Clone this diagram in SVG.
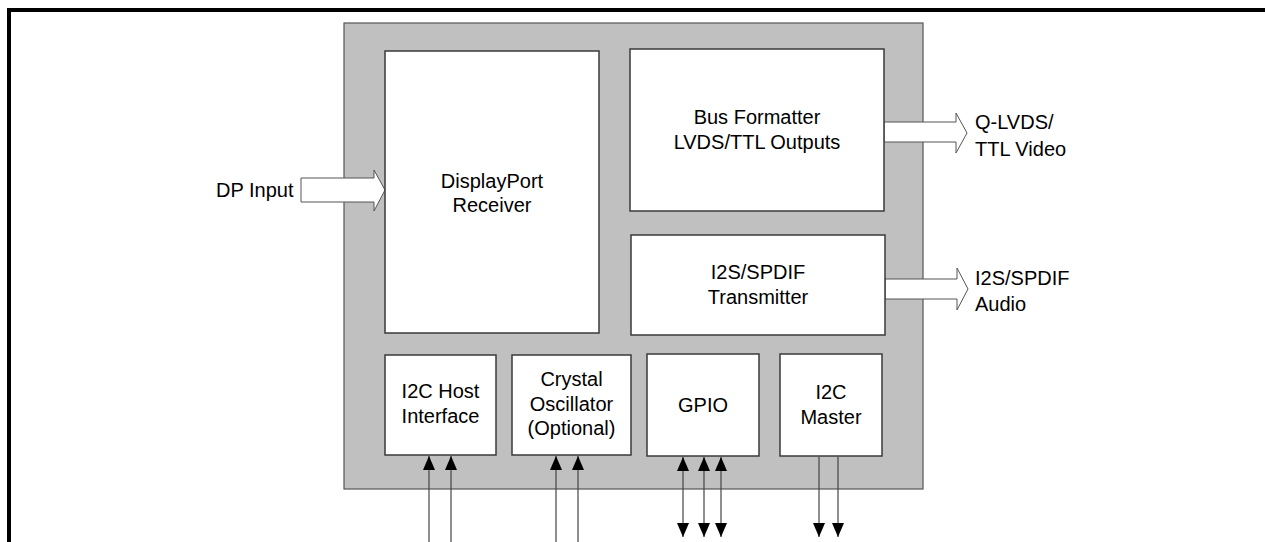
<svg xmlns="http://www.w3.org/2000/svg" width="1265" height="542" viewBox="0 0 1265 542">
<defs>
<style>
.t{font-family:"Liberation Sans",Arial,sans-serif;font-size:20px;fill:#000;}
.c{text-anchor:middle;}
.box{fill:#fff;stroke:#3a3a3a;stroke-width:1.5;}
.ln{stroke:#444;stroke-width:1.2;fill:none;}
.blk{fill:#fff;stroke:#555;stroke-width:1;}
</style>
<marker id="ah" viewBox="0 0 14 12" refX="14" refY="6" markerWidth="14" markerHeight="12" markerUnits="userSpaceOnUse" orient="auto-start-reverse">
<path d="M0,0 L14,6 L0,12 z" fill="#000"/>
</marker>
</defs>
<rect width="1265" height="542" fill="#fff"/>
<path d="M9,545 V10 H1270" fill="none" stroke="#000" stroke-width="4"/>
<rect id="chip" x="344" y="23" width="579" height="466" fill="#c0c0c0" stroke="#555" stroke-width="1.2"/>
<g id="connectors">
<polygon class="blk" points="301,178 374,178 374,170 385,190 374,211 374,202 301,202"/>
<polygon class="blk" points="884,122 956,122 956,113 967,133 956,153 956,142 884,142"/>
<polygon class="blk" points="885,279 957,279 957,268 968,289 957,310 957,299 885,299"/>
<line class="ln" x1="429" y1="545" x2="429" y2="456" marker-end="url(#ah)"/>
<line class="ln" x1="451" y1="545" x2="451" y2="456" marker-end="url(#ah)"/>
<line class="ln" x1="556" y1="545" x2="556" y2="456" marker-end="url(#ah)"/>
<line class="ln" x1="578" y1="545" x2="578" y2="456" marker-end="url(#ah)"/>
<line class="ln" x1="683" y1="537" x2="683" y2="457" marker-start="url(#ah)" marker-end="url(#ah)"/>
<line class="ln" x1="704" y1="537" x2="704" y2="457" marker-start="url(#ah)" marker-end="url(#ah)"/>
<line class="ln" x1="721" y1="537" x2="721" y2="457" marker-start="url(#ah)" marker-end="url(#ah)"/>
<line class="ln" x1="819" y1="457" x2="819" y2="537" marker-end="url(#ah)"/>
<line class="ln" x1="838" y1="457" x2="838" y2="537" marker-end="url(#ah)"/>
</g>
<g id="dp-input"><text class="t" x="216" y="197">DP Input</text></g>
<g id="qlvds-out"><text class="t" x="975" y="129">Q-LVDS/</text><text class="t" x="975" y="156">TTL Video</text></g>
<g id="audio-out"><text class="t" x="975" y="285">I2S/SPDIF</text><text class="t" x="975" y="311">Audio</text></g>
<g id="dp-receiver"><rect class="box" x="385" y="51" width="214" height="282"/><text class="t c" x="492" y="188">DisplayPort</text><text class="t c" x="492" y="212">Receiver</text></g>
<g id="bus-formatter"><rect class="box" x="630" y="49" width="254" height="162"/><text class="t c" x="757" y="124">Bus Formatter</text><text class="t c" x="757" y="149">LVDS/TTL Outputs</text></g>
<g id="i2s-tx"><rect class="box" x="631" y="235" width="254" height="100"/><text class="t c" x="758" y="279">I2S/SPDIF</text><text class="t c" x="758" y="304">Transmitter</text></g>
<g id="i2c-host"><rect class="box" x="385" y="355" width="111" height="100"/><text class="t c" x="440.5" y="398">I2C Host</text><text class="t c" x="440.5" y="423">Interface</text></g>
<g id="crystal"><rect class="box" x="512" y="355" width="119" height="100"/><text class="t c" x="571.5" y="386">Crystal</text><text class="t c" x="571.5" y="411">Oscillator</text><text class="t c" x="571.5" y="435">(Optional)</text></g>
<g id="gpio"><rect class="box" x="647" y="354" width="112" height="102"/><text class="t c" x="703" y="412">GPIO</text></g>
<g id="i2c-master"><rect class="box" x="780" y="354" width="102" height="102"/><text class="t c" x="831" y="399">I2C</text><text class="t c" x="831" y="424">Master</text></g>
</svg>
